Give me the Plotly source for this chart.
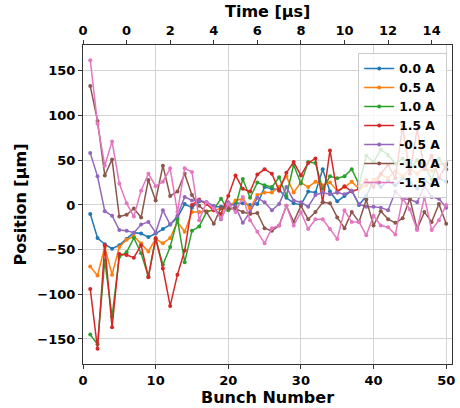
import plotly.graph_objects as go

bunch = list(range(1, 51))

s_00 = [-10, -37, -44, -49, -45, -38, -31, -32, -36, -32, -27, -22, -14, 1, -3, 4, 3, -2, -2, -1,
        2, 2, 0, 1, 20, 18, 17, 8, 2, 0, 15, 14, 40, 15, 4, 10, 16, 0, 10, 27,
        20, 27, 22, 30, 25, 18, 28, 22, 30, 26]
s_05 = [-69, -79, -47, -78, -47, -39, -35, -43, -52, -38, -43, -37, -19, -30, -8, -8, -7, -6, -4, -4,
        5, 7, -4, 11, 14, 14, 20, 32, 14, 25, 20, 26, 22, 25, 16, 20, 26, 18, 22, 28,
        34, 30, 38, 32, 40, 35, 42, 38, 45, 47]
s_10 = [-145, -156, -62, -125, -58, -53, -37, -54, -80, -38, -67, -47, -16, -64, -29, -24, -8, -5, 7, -6,
        -2, 29, 8, 25, 22, 20, 31, 10, 45, 24, 48, 47, 18, 32, 30, 32, 40, 23, 55, 48,
        62, 56, 46, 52, 40, 50, 45, 28, 52, 40]
s_15 = [-94, -161, -45, -137, -55, -56, -59, -45, -81, -37, -71, -113, -78, -51, 0, 6, 1, -6, -10, 10,
        33, 18, 15, 34, 40, 35, 16, 36, 48, 33, 47, 52, 3, 61, 14, 21, 15, 18, 28, 20,
        35, 45, 30, 88, 35, 85, 40, 55, 30, 45]
s_m05 = [58, 32, -7, -12, -28, -29, -31, -22, -19, -31, -6, -22, -12, 9, 5, 5, 3, -1, -16, 3,
         -2, -20, -8, 8, 3, -6, 1, 20, 5, 3, -2, 11, 14, 12, 14, 12, 16, 1, -2, -2,
         -3, -6, 15, 7, 6, 3, 21, 9, 7, -3]
s_m10 = [133, 94, 33, 51, -13, -11, -4, -14, 28, 5, 44, 10, 15, 35, 11, -1, -8, -21, -3, -4,
         -4, -8, -10, -9, -26, -29, -23, -1, -19, -1, -16, -8, 3, 2, -14, -26, -8, -19, 6, -23,
         -7, -16, -20, -15, 7, -27, -8, -19, 1, -21]
s_m15 = [162, 91, 44, 71, 24, 2, -13, 16, 35, 21, 26, 41, -8, 41, 37, -17, 3, -4, -15, 1,
         -8, 9, -17, -30, -43, -26, -23, -1, -23, -8, -27, -16, -16, -27, -38, -6, -19, -19, -34, -12,
         -23, -25, -33, 7, -5, -28, 9, -28, -17, 0]

series_names = ["0.0 A", "0.5 A", "1.0 A", "1.5 A", "-0.5 A", "-1.0 A", "-1.5 A"]
series_values = [s_00, s_05, s_10, s_15, s_m05, s_m10, s_m15]
colors = ["#1f77b4", "#ff7f0e", "#2ca02c", "#d62728", "#9467bd", "#8c564b", "#e377c2"]

top_tickvals = [0, 6, 12, 18, 24, 30, 36, 42, 48]
top_ticktext = ["0", "0", "2", "4", "6", "8", "10", "12", "14"]

FONT = "DejaVu Sans"

fig = go.Figure()
for name, vals, c in zip(series_names, series_values, colors):
    fig.add_trace(go.Scatter(
        x=bunch, y=vals, name=name, mode="lines+markers",
        line=dict(color=c, width=1.5), marker=dict(color=c, size=4),
    ))
# invisible trace to anchor the top axis
fig.add_trace(go.Scatter(x=[bunch[0]], y=[s_00[0]], xaxis="x2", mode="markers",
                         marker=dict(opacity=0), showlegend=False, hoverinfo="skip"))

tickfont = dict(family=FONT, size=13, color="black", weight="bold")
titlefont = dict(family=FONT, size=16, color="black", weight="bold")

fig.update_layout(
    width=460, height=408,
    margin=dict(l=83, r=5, t=45, b=43),
    plot_bgcolor="white", paper_bgcolor="white",
    font=dict(family=FONT),
    xaxis=dict(
        range=[0, 50.8], tickvals=[0, 10, 20, 30, 40, 50],
        showgrid=True, gridcolor="#d3d3d3", gridwidth=1,
        showline=True, linecolor="#333", linewidth=1, mirror=True,
        ticks="outside", ticklen=4, tickcolor="#333",
        tickfont=tickfont, zeroline=False,
        title=dict(text="Bunch Number", font=titlefont, standoff=4),
    ),
    xaxis2=dict(
        overlaying="x", side="top", range=[0, 50.8],
        tickmode="array", tickvals=top_tickvals, ticktext=top_ticktext,
        showgrid=False, showline=False, zeroline=False,
        ticks="outside", ticklen=4, tickcolor="#333",
        tickfont=tickfont,
    ),
    yaxis=dict(
        range=[-178, 179], tickvals=[-150, -100, -50, 0, 50, 100, 150],
        showgrid=True, gridcolor="#d3d3d3", gridwidth=1,
        showline=True, linecolor="#333", linewidth=1, mirror=True,
        ticks="outside", ticklen=4, tickcolor="#333",
        tickfont=tickfont, zeroline=False,
        title=dict(text="Position [μm]", font=titlefont, standoff=6),
    ),
    annotations=[dict(
        text="Time [μs]", xref="paper", yref="paper", x=0.5, y=1,
        xanchor="center", yanchor="bottom", yshift=22, showarrow=False,
        font=titlefont,
    )],
    legend=dict(
        x=0.987, y=0.975, xanchor="right", yanchor="top",
        bgcolor="rgba(255,255,255,0.8)", bordercolor="#cccccc", borderwidth=1,
        font=dict(family=FONT, size=12.3, color="black", weight="bold"),
        tracegroupgap=0, itemwidth=30,
    ),
    showlegend=True,
)

fig.write_html("out.html")
